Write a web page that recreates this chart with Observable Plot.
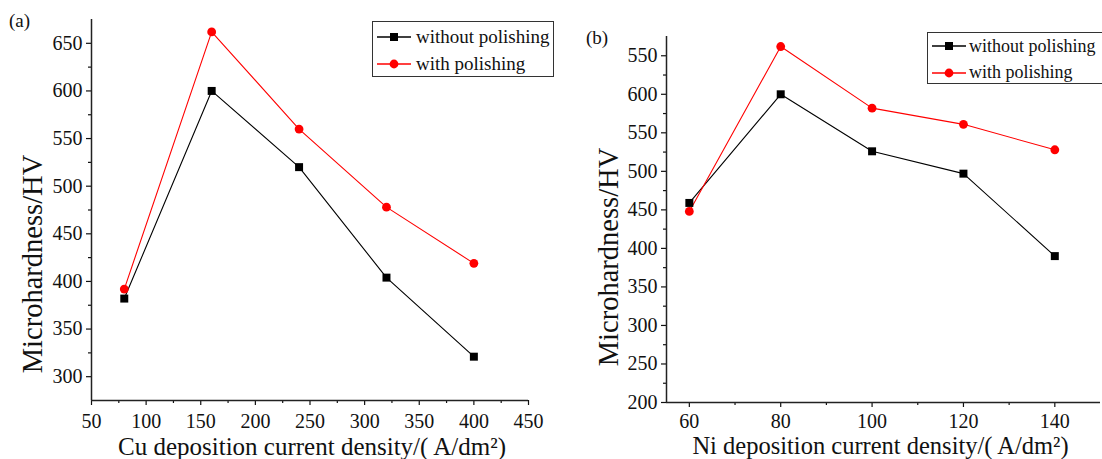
<!DOCTYPE html>
<html>
<head>
<meta charset="utf-8">
<script src="https://cdn.jsdelivr.net/npm/d3@7"></script>
<script src="https://cdn.jsdelivr.net/npm/@observablehq/plot@0.6"></script>
<style>
  body { margin: 0; background: #fff; font-family: "Liberation Serif", "Times New Roman", serif; }
  #wrap { position: relative; width: 1102px; height: 459px; overflow: hidden; background: #fff; }
  .panel { position: absolute; top: 0; }
  .tag { position: absolute; font-size: 19px; line-height: 1; color: #111; }
  .legend { position: absolute; border: 1.3px solid #333; background: #fff; font-size: 19px; color: #111; box-sizing: border-box; }
  .legend .row { position: absolute; left: 0; height: 26px; display: flex; align-items: center; white-space: nowrap; }
  .legend svg { display: block; margin-left: 4px; margin-right: 5px; }
</style>
</head>
<body>
<div id="wrap"></div>
<script>
// ---------- data ----------
const seriesNames = ["without polishing", "with polishing"];
const seriesColors = ["#000000", "#ff0000"];

// (a) Cu panel
const cuDensity = [80, 160, 240, 320, 400];
const cuWithout = [382, 600, 520, 404, 321];
const cuWith = [392, 662, 560, 478, 419];
const cuXTicks = [50, 100, 150, 200, 250, 300, 350, 400, 450];
const cuXMinor = [75, 125, 175, 225, 275, 325, 375, 425];
const cuYTicks = [300, 350, 400, 450, 500, 550, 600, 650];
const cuYTickLabels = ["300", "350", "400", "450", "500", "550", "600", "650"];
const cuYMinor = [325, 375, 425, 475, 525, 575, 625];
const cuXLabel = "Cu deposition current density/( A/dm²)";

// (b) Ni panel
const niDensity = [60, 80, 100, 120, 140];
const niWithout = [459, 600, 526, 497, 390];
const niWith = [448, 662, 582, 561, 528];
const niXTicks = [60, 80, 100, 120, 140];
const niXMinor = [70, 90, 110, 130];
const niYTicks = [200, 250, 300, 350, 400, 450, 500, 550, 600, 650];
const niYTickLabels = ["200", "250", "300", "350", "400", "450", "500", "550", "600", "550"];
const niYMinor = [225, 275, 325, 375, 425, 475, 525, 575, 625];
const niXLabel = "Ni deposition current density/( A/dm²)";

const yLabel = "Microhardness/HV";

// ---------- drawing ----------
const FONT = "Liberation Serif, Times New Roman, serif";

function panel(cfg) {
  const rows = [];
  cfg.xs.forEach((x, i) => rows.push({x, y: cfg.without[i], s: seriesNames[0]}));
  cfg.xs.forEach((x, i) => rows.push({x, y: cfg.withP[i], s: seriesNames[1]}));
  const fmt = (d) => cfg.yTickLabels[cfg.yTicks.indexOf(d)];
  return Plot.plot({
    width: cfg.width,
    height: 459,
    marginLeft: cfg.ml, marginRight: cfg.mr, marginTop: cfg.mt, marginBottom: cfg.mb,
    x: {domain: cfg.xDomain},
    y: {domain: cfg.yDomain},
    color: {domain: seriesNames, range: seriesColors},
    style: {fontFamily: FONT, fontSize: "20px", color: "#111", background: "transparent", overflow: "visible"},
    marks: [
      Plot.axisX({ticks: cfg.xTicks, tickSize: 5, tickPadding: cfg.xPad, fontSize: 20, label: null, strokeWidth: 1.2}),
      Plot.axisX({ticks: cfg.xMinor, tickSize: 3, tickFormat: () => "", label: null, strokeWidth: 1.2}),
      Plot.axisY({ticks: cfg.yTicks, tickSize: 5, tickPadding: 4, fontSize: 20, label: null, tickFormat: fmt, strokeWidth: 1.2}),
      Plot.axisY({ticks: cfg.yMinor, tickSize: 3, tickFormat: () => "", label: null, strokeWidth: 1.2}),
      Plot.ruleX([cfg.xDomain[0]], {stroke: "#222", strokeWidth: 1.5}),
      Plot.ruleY([cfg.yDomain[0]], {stroke: "#222", strokeWidth: 1.5}),
      Plot.line(rows, {x: "x", y: "y", z: "s", stroke: "s", strokeWidth: 1.1}),
      Plot.dot(rows.filter(d => d.s === seriesNames[0]), {x: "x", y: "y", symbol: "square", fill: seriesColors[0], r: 4.5}),
      Plot.dot(rows.filter(d => d.s === seriesNames[1]), {x: "x", y: "y", symbol: "circle", fill: seriesColors[1], r: 4.4}),
      Plot.text([cfg.xLabel], {text: d => d, frameAnchor: "bottom", textAnchor: "middle", lineAnchor: "bottom", dx: cfg.xlDx, dy: cfg.xlDy, fontSize: cfg.xlSize, fill: "#111"}),
      Plot.text([yLabel], {text: d => d, frameAnchor: "left", textAnchor: "middle", lineAnchor: "middle", rotate: -90, dx: cfg.ylDx, dy: cfg.ylDy, fontSize: 28.5, fill: "#111"})
    ]
  });
}

function legend(left, top, width, height, rowTops, openRight, fontSize, gap) {
  const lg = d3.select("#wrap").append("div").attr("class", "legend")
    .style("left", left + "px").style("top", top + "px")
    .style("width", width + "px").style("height", height + "px")
    .style("font-size", fontSize + "px");
  if (openRight) lg.style("border-right", "none");
  seriesNames.forEach((name, i) => {
    const row = lg.append("div").attr("class", "row").style("top", rowTops[i] + "px");
    const sw = row.append("svg").attr("width", 34).attr("height", 14).style("margin-right", gap + "px");
    sw.append("line").attr("x1", 0).attr("x2", 34).attr("y1", 7).attr("y2", 7)
      .attr("stroke", seriesColors[i]).attr("stroke-width", 1.3);
    if (i === 0) sw.append("rect").attr("x", 13).attr("y", 3).attr("width", 8).attr("height", 8).attr("fill", seriesColors[i]);
    else sw.append("circle").attr("cx", 17).attr("cy", 7).attr("r", 4.4).attr("fill", seriesColors[i]);
    row.append("span").text(name);
  });
}

const wrap = document.getElementById("wrap");

const pa = panel({
  xs: cuDensity, without: cuWithout, withP: cuWith,
  xDomain: [50, 450], yDomain: [275, 675],
  xTicks: cuXTicks, xMinor: cuXMinor, yTicks: cuYTicks, yTickLabels: cuYTickLabels, yMinor: cuYMinor,
  xLabel: cuXLabel, width: 560, ml: 91, mr: 32, mt: 19, mb: 59, xPad: 8,
  xlDx: 2, xlDy: 54, xlSize: 25, ylDx: -59, ylDy: 54
});
pa.classList.add("panel"); pa.style.left = "0px";
wrap.appendChild(pa);

const pb = panel({
  xs: niDensity, without: niWithout, withP: niWith,
  xDomain: [55, 150], yDomain: [200, 675],
  xTicks: niXTicks, xMinor: niXMinor, yTicks: niYTicks, yTickLabels: niYTickLabels, yMinor: niYMinor,
  xLabel: niXLabel, width: 542, ml: 106, mr: 2, mt: 36, mb: 57, xPad: 6,
  xlDx: -3, xlDy: 51.5, xlSize: 24.5, ylDx: -58, ylDy: 37.5
});
pb.classList.add("panel"); pb.style.left = "560px";
wrap.appendChild(pb);

d3.select("#wrap").append("div").attr("class", "tag").style("left", "9px").style("top", "11px").text("(a)");
d3.select("#wrap").append("div").attr("class", "tag").style("left", "586px").style("top", "28px").text("(b)");

legend(372, 21, 182, 56, [2, 28.5], false, 19, 5);
legend(927, 32, 175, 52, [0, 26.5], true, 18, 3);
</script>
</body>
</html>
